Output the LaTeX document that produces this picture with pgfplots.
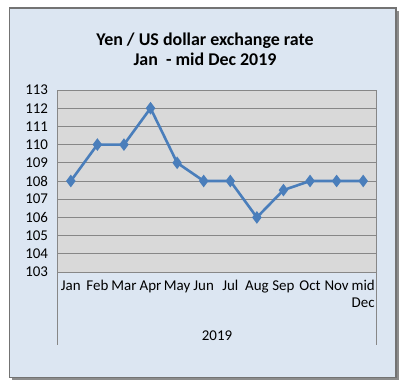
\documentclass[border=0pt]{standalone}
\usepackage{pgfplots}
\pgfplotsset{compat=1.18}
\usepackage{fontspec}
\setmainfont{Carlito}
\definecolor{bgblue}{HTML}{DCE6F2}
\definecolor{plotgray}{HTML}{D9D9D9}
\definecolor{gridgray}{HTML}{878787}
\definecolor{lineblue}{HTML}{4A7EBB}
\begin{document}
\begin{tikzpicture}
\path[use as bounding box] (0bp,0bp) rectangle (413bp,390bp);
\fill[black!45] (12bp,10bp) rectangle (399bp,379bp);
\draw[fill=bgblue, draw=black!55, line width=1.2bp] (9.5bp,12.5bp) rectangle (396bp,382bp);
\node[font=\fontsize{18}{20}\selectfont\bfseries, align=center] at (205bp,341bp) {Yen / US dollar exchange rate\\Jan\ \ - mid Dec 2019};
\begin{axis}[
  at={(57.5bp,118bp)}, anchor=south west,
  scale only axis, width=319bp, height=182bp,
  xmin=-0.5, xmax=11.5, ymin=103, ymax=113,
  ytick={103,104,...,113},
  xtick={0,...,11},
  xticklabels={Jan,Feb,Mar,Apr,May,Jun,Jul,Aug,Sep,Oct,Nov,{mid\\Dec}},
  xticklabel style={align=center, anchor=north, yshift=-5bp, font=\fontsize{15}{16.5}\selectfont},
  yticklabel style={xshift=-6bp, font=\fontsize{15}{16}\selectfont},
  /pgf/number format/assume math mode=true,
  major tick length=0,
  axis background/.style={fill=plotgray},
  axis line style={draw=gridgray, line width=0.8bp},
  ymajorgrids, grid style={draw=gridgray, line width=0.8bp},
  clip=false,
]
\addplot[color=lineblue, line width=2.6bp, mark=diamond*, mark size=4.2bp, mark options={fill=lineblue}]
coordinates {(0,108) (1,110) (2,110) (3,112) (4,109) (5,108) (6,108) (7,106) (8,107.5) (9,108) (10,108) (11,108)};
\end{axis}
\draw[gridgray, line width=0.8bp] (57.5bp,118bp) -- (57.5bp,45bp);
\draw[gridgray, line width=0.8bp] (376.5bp,118bp) -- (376.5bp,45bp);
\node[font=\fontsize{15}{16}\selectfont] at (217bp,54bp) {2019};
\end{tikzpicture}
\end{document}
